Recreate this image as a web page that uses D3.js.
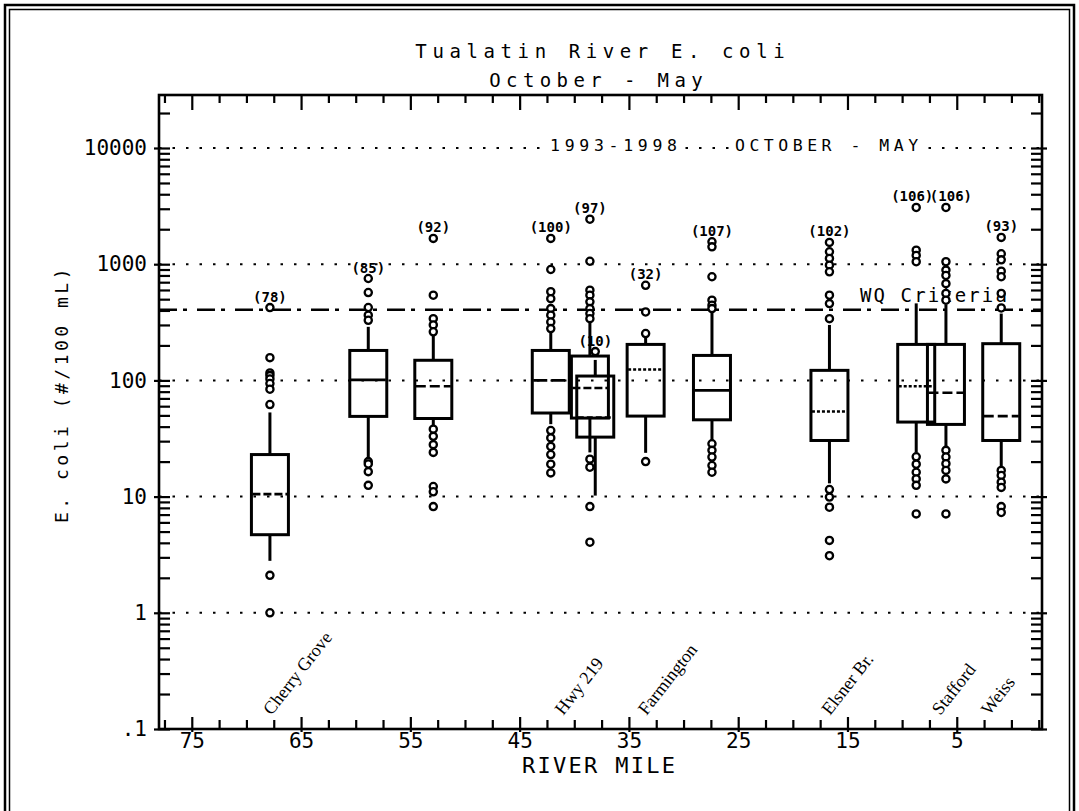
<!DOCTYPE html>
<html>
<head>
<meta charset="utf-8">
<script src="https://cdn.jsdelivr.net/npm/d3@7"></script>
<style>
  body { margin: 0; background: #fff; }
  svg { display: block; }
</style>
</head>
<body>
<svg id="chart" width="1079" height="811"></svg>
<script>
// ---- Data: E. coli box summaries per sampling site (Oct - May, 1993-1998) ----
const riverMile   = [67.85, 58.85, 52.9, 42.15, 38.57, 38.08, 33.47, 27.4, 16.65, 8.71, 5.99, 0.93];
const sampleCount = [78, 85, 92, 100, 97, 10, 32, 107, 102, 106, 106, 93];
const whiskerLow  = [2.8, 20.4, 37, 42, 24, 10.2, 23.8, 30.4, 13, 24, 26.6, 17.9];
const quartile1   = [4.7, 49, 47, 52.4, 47.4, 32.5, 49.3, 45.8, 30.4, 43.8, 41.8, 30.4];
const medianValue = [10.5, 101, 89, 100, 86, 48, 124, 82, 54, 89, 78.4, 49.3];
const quartile3   = [23, 181, 149, 181, 162, 109, 204, 164, 122, 204, 204, 207];
const whiskerHigh = [53, 289, 270, 261, 320, 150, 236, 390, 300, 460, 450, 376];
const outlierValues = [
  [423, 157, 116, 110, 103, 94, 84, 62, 2.1, 1.0],
  [753, 570, 424, 364, 329, 20, 19.1, 16.4, 12.5],
  [1667, 541, 340, 300, 262, 38, 33, 28, 24, 12.2, 11, 8.2],
  [1667, 900, 580, 505, 415, 364, 318, 279, 37, 32, 27, 23, 19, 16],
  [2440, 1060, 597, 541, 474, 415, 376, 340, 21, 17.9, 8.2, 4.05],
  [177],
  [658, 388, 253, 20],
  [1560, 1410, 780, 490, 443, 415, 28.5, 25, 21.9, 18.5, 16.2],
  [1540, 1280, 1120, 980, 860, 541, 458, 340, 11.5, 9.9, 8.1, 4.2, 3.1],
  [3080, 1320, 1190, 1050, 22, 19, 16.2, 14.2, 12.5, 7.1],
  [3080, 1050, 890, 800, 680, 560, 490, 25, 21.9, 19.2, 16.8, 14.2, 7.1],
  [1700, 1230, 1090, 870, 780, 560, 420, 16.8, 15.2, 13.3, 12, 8.2, 7.3]
];

// Site names along the river and the river mile where each name sits
const siteNames = ["Cherry Grove", "Hwy 219", "Farmington", "Elsner Br.", "Stafford", "Weiss"];
const siteMiles = [67.7, 41.0, 33.4, 16.6, 6.5, 2.0];

// Axis ticks
const mileTicks = [75, 65, 55, 45, 35, 25, 15, 5];
const ecoliTicks = [0.1, 1, 10, 100, 1000, 10000];
const ecoliTickLabels = [".1", "1", "10", "100", "1000", "10000"];
const gridValues = [1, 10, 100, 1000, 10000];
const criterionValue = 406;

// ---- Layout ----
const svg = d3.select("#chart");
const W = 1079, H = 811;
const pL = 159, pR = 1042, pT = 95, pB = 729;
const mono = "'DejaVu Sans Mono', monospace";

const x = d3.scaleLinear().domain([78, -2.8]).range([pL, pR]);
const y = d3.scaleLog().domain([0.1, 28580]).range([pB, pT]);

// Outer double frame
svg.append("rect").attr("x", 5).attr("y", 5).attr("width", W - 10).attr("height", H + 20)
  .attr("fill", "none").attr("stroke", "#000").attr("stroke-width", 2.5);
svg.append("rect").attr("x", 9.5).attr("y", 9.5).attr("width", W - 19).attr("height", H + 20)
  .attr("fill", "none").attr("stroke", "#000").attr("stroke-width", 1.5);

// Title
function spacedText(sel, txt, cx, yy, size, ls, weight) {
  return sel.append("text")
    .attr("x", cx + ls / 2).attr("y", yy)
    .attr("text-anchor", "middle")
    .style("font-family", mono).style("font-size", size + "px")
    .style("letter-spacing", ls + "px")
    .style("font-weight", weight || "normal")
    .text(txt);
}
spacedText(svg, "Tualatin River E. coli", 600, 58, 19, 5.6);
spacedText(svg, "October - May", 596, 87, 19, 5.4);

// Dotted gridlines
svg.append("g").selectAll("line").data(gridValues).join("line")
  .attr("x1", pL).attr("x2", pR)
  .attr("y1", d => y(d)).attr("y2", d => y(d))
  .attr("stroke", "#000").attr("stroke-width", 2)
  .attr("stroke-dasharray", "2.5,11");

// Period labels sitting on the 10000 gridline
const periodLabels = [
  { t: "1993-1998", x0: 550, ls: 4.7 },
  { t: "OCTOBER - MAY", x0: 735, ls: 4.5 }
];
periodLabels.forEach(p => {
  const w = p.t.length * 9.93 + (p.t.length - 1) * p.ls;
  svg.append("rect").attr("x", p.x0 - 3).attr("y", y(10000) - 13).attr("width", w + 6).attr("height", 16)
    .attr("fill", "#fff");
  svg.append("text").attr("x", p.x0).attr("y", y(10000) + 3)
    .style("font-family", mono).style("font-size", "16.5px")
    .style("letter-spacing", p.ls + "px").text(p.t);
});

// Water-quality criterion line
svg.append("line")
  .attr("x1", pL).attr("x2", pR)
  .attr("y1", y(criterionValue)).attr("y2", y(criterionValue))
  .attr("stroke", "#000").attr("stroke-width", 2.4)
  .attr("stroke-dasharray", "18,6,4,10");
svg.append("text").attr("x", 860).attr("y", 302)
  .style("font-family", mono).style("font-size", "19px")
  .style("letter-spacing", "2.1px").text("WQ Criteria");

// ---- Axes ----
const minorMiles = d3.range(77.5, -2.6, -2.5).filter(m => !mileTicks.includes(m));
const minorEcoli = [];
[0.1, 1, 10, 100, 1000, 10000].forEach(d => { for (let k = 2; k <= 9; k++) { if (d * k < 28580) minorEcoli.push(d * k); } });

function styleAxis(g) {
  g.select(".domain").remove();
  g.selectAll(".tick line").attr("stroke", "#000").attr("stroke-width", 2.2);
  g.selectAll(".tick text").style("font-family", mono).style("font-size", "21px").attr("fill", "#000");
}

// Bottom axis
const gb = svg.append("g").attr("transform", `translate(0,${pB})`)
  .call(d3.axisBottom(x).tickValues(mileTicks).tickSize(-12).tickPadding(4).tickFormat(d3.format("d")))
  .call(styleAxis);
gb.selectAll(".tick line").attr("y1", 3);
svg.append("g").attr("transform", `translate(0,${pB})`)
  .call(d3.axisBottom(x).tickValues(minorMiles).tickSize(-9).tickFormat(""))
  .call(styleAxis);

// Top axis
svg.append("g").attr("transform", `translate(0,${pT})`)
  .call(d3.axisTop(x).tickValues(mileTicks).tickSize(-15).tickFormat(""))
  .call(styleAxis);
svg.append("g").attr("transform", `translate(0,${pT})`)
  .call(d3.axisTop(x).tickValues(minorMiles).tickSize(-8).tickFormat(""))
  .call(styleAxis);

// Left axis
const gl = svg.append("g").attr("transform", `translate(${pL},0)`)
  .call(d3.axisLeft(y).tickValues(ecoliTicks).tickSize(-11).tickPadding(12)
    .tickFormat((d, i) => ecoliTickLabels[i]))
  .call(styleAxis);
gl.selectAll(".tick line").attr("x1", -5);
svg.append("g").attr("transform", `translate(${pL},0)`)
  .call(d3.axisLeft(y).tickValues(minorEcoli).tickSize(-11).tickFormat(""))
  .call(styleAxis);

// Right axis
const gr = svg.append("g").attr("transform", `translate(${pR},0)`)
  .call(d3.axisRight(y).tickValues(ecoliTicks).tickSize(-11).tickFormat(""))
  .call(styleAxis);
gr.selectAll(".tick line").attr("x1", 5);
svg.append("g").attr("transform", `translate(${pR},0)`)
  .call(d3.axisRight(y).tickValues(minorEcoli).tickSize(-11).tickFormat(""))
  .call(styleAxis);

// Plot frame
svg.append("rect").attr("x", pL).attr("y", pT)
  .attr("width", pR - pL).attr("height", pB - pT)
  .attr("fill", "none").attr("stroke", "#000").attr("stroke-width", 2.6);

// Axis titles
svg.append("text")
  .attr("transform", "translate(68,394) rotate(-90)")
  .attr("text-anchor", "middle")
  .style("font-family", mono).style("font-size", "18px")
  .style("letter-spacing", "3.5px").text("E. coli (#/100 mL)");
spacedText(svg, "RIVER MILE", 598.5, 773, 22, 2.3);

// Site names, slanted along the axis
svg.append("g").selectAll("text").data(siteNames).join("text")
  .attr("transform", (d, i) => `translate(${x(siteMiles[i])},716) rotate(-52)`)
  .style("font-family", "'Liberation Serif', 'Times New Roman', serif")
  .style("font-size", "18px")
  .text(d => d);

// ---- Box plots ----
const boxW = 37;
const medianDash = ["8,3", null, "10,4", "14,4", "8,3", "6,3", "3,2", null, "3,2", "3,2", "10,4", "10,4"];
// small sideways nudges for count labels that crowd each other
const countShift = [0, 0, 0, 0, 0, 0, 0, 0, 0, -4, 5, 0];
const boxes = svg.append("g").selectAll("g").data(riverMile).join("g");

// whiskers
boxes.append("line")
  .attr("x1", d => x(d)).attr("x2", d => x(d))
  .attr("y1", (d, i) => y(whiskerHigh[i])).attr("y2", (d, i) => y(quartile3[i]))
  .attr("stroke", "#000").attr("stroke-width", 3);
boxes.append("line")
  .attr("x1", d => x(d)).attr("x2", d => x(d))
  .attr("y1", (d, i) => y(quartile1[i])).attr("y2", (d, i) => y(whiskerLow[i]))
  .attr("stroke", "#000").attr("stroke-width", 3);

// boxes
boxes.append("rect")
  .attr("x", d => x(d) - boxW / 2).attr("width", boxW)
  .attr("y", (d, i) => y(quartile3[i]))
  .attr("height", (d, i) => y(quartile1[i]) - y(quartile3[i]))
  .attr("fill", "none").attr("stroke", "#000").attr("stroke-width", 3);

// medians
boxes.append("line")
  .attr("x1", d => x(d) - boxW / 2 + 1).attr("x2", d => x(d) + boxW / 2 - 1)
  .attr("y1", (d, i) => y(medianValue[i])).attr("y2", (d, i) => y(medianValue[i]))
  .attr("stroke", "#000").attr("stroke-width", 2.6)
  .attr("stroke-dasharray", (d, i) => medianDash[i]);

// outliers
boxes.each(function (d, i) {
  d3.select(this).selectAll("circle").data(outlierValues[i]).join("circle")
    .attr("cx", x(d)).attr("cy", v => y(v)).attr("r", 3.6)
    .attr("fill", "#fff").attr("stroke", "#000").attr("stroke-width", 2.3);
});

// sample counts above each site
boxes.append("text")
  .attr("x", (d, i) => x(d) + countShift[i])
  .attr("y", (d, i) => y(d3.max([whiskerHigh[i], ...outlierValues[i]])) - 6)
  .attr("text-anchor", "middle")
  .style("font-family", mono).style("font-size", "14px").style("font-weight", "bold")
  .text((d, i) => `(${sampleCount[i]})`);
</script>
</body>
</html>
